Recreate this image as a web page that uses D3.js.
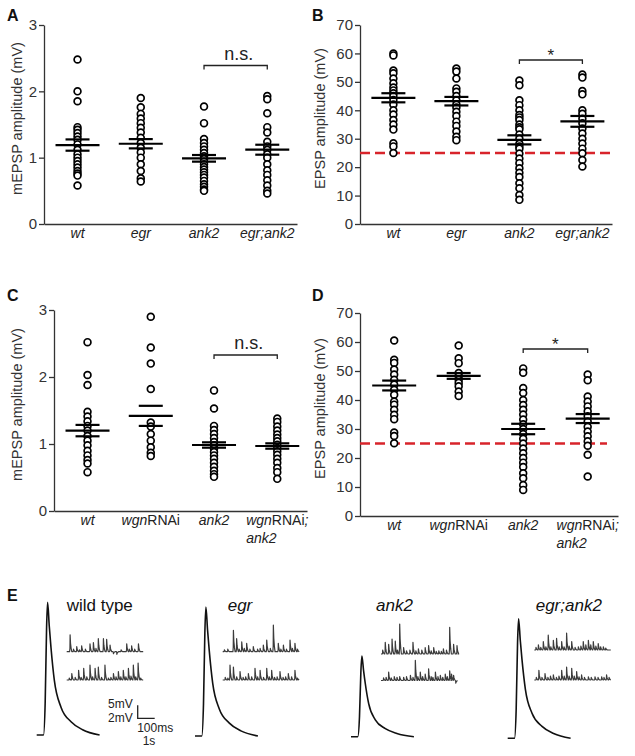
<!DOCTYPE html>
<html>
<head>
<meta charset="utf-8">
<script src="https://cdn.jsdelivr.net/npm/d3@7"></script>
<style>
    body { margin: 0; background: #fff; }
    svg { font-family: "Liberation Sans", Arial, Helvetica, sans-serif; display: block; }
</style>
</head>
<body>
<div id="fig"></div>
<script>
// ---- data ----
const catsAB = ['wt', 'egr', 'ank2', 'egr;ank2'];
const catsCD = ['wt', 'wgnRNAi', 'ank2', 'wgnRNAi;\nank2'];

// A: mEPSP amplitude (mV)
const mepspA = [
    [2.48, 2.0, 1.85, 1.46, 1.42, 1.37, 1.32, 1.27, 1.2, 1.12, 1.05, 1.0, 0.95, 0.9, 0.85, 0.8, 0.76, 0.73, 0.58],
    [1.9, 1.76, 1.66, 1.59, 1.52, 1.45, 1.38, 1.3, 1.22, 1.15, 1.08, 1.0, 0.9, 0.8, 0.69, 0.64],
    [1.77, 1.52, 1.28, 1.22, 1.17, 1.12, 1.07, 1.02, 0.98, 0.94, 0.9, 0.86, 0.82, 0.78, 0.74, 0.7, 0.65, 0.6, 0.56, 0.52, 0.5],
    [1.93, 1.88, 1.67, 1.46, 1.38, 1.24, 1.17, 1.12, 1.05, 1.0, 0.9, 0.81, 0.74, 0.66, 0.58, 0.5, 0.46]
];
const meanA = [1.19, 1.21, 0.99, 1.12];
const semA = [0.085, 0.07, 0.05, 0.075];

// B: EPSP amplitude (mV)
const epspB = [
    [60, 59.3, 54, 53, 51.2, 49.5, 48, 47, 46, 45, 43.6, 42, 40, 38.5, 36.6, 35, 33.2, 28.4, 27.3, 25],
    [54.7, 53.6, 51.2, 47.7, 46.5, 45, 43.5, 42, 41, 39.5, 38, 36, 34.5, 32.5, 30.7, 29.5],
    [50.5, 48.8, 43.5, 41.8, 40, 38.3, 37.5, 36.6, 35, 34, 33.3, 31.5, 30, 28.2, 27.3, 26.5, 24.8, 23, 21.4, 19.6, 18, 16.5, 14.3, 12.6, 10.2, 8.5],
    [52.6, 51.5, 46.8, 45.6, 40, 38.8, 37, 35.4, 33.6, 31.8, 30, 28.3, 26.5, 24.9, 22.5, 20.2]
];
const meanB = [44.4, 43.2, 29.6, 36.1];
const semB = [1.6, 1.5, 1.6, 1.9];

// C: mEPSP amplitude (mV)
const mepspC = [
    [2.52, 2.03, 1.88, 1.48, 1.41, 1.34, 1.27, 1.2, 1.12, 1.05, 0.98, 0.9, 0.83, 0.76, 0.71, 0.58],
    [2.9, 2.44, 2.2, 1.82, 1.32, 1.26, 1.15, 1.05, 0.95, 0.87, 0.82],
    [1.8, 1.53, 1.27, 1.21, 1.15, 1.09, 1.03, 0.98, 0.93, 0.88, 0.83, 0.78, 0.72, 0.66, 0.6, 0.55, 0.51],
    [1.38, 1.33, 1.26, 1.2, 1.14, 1.09, 1.04, 0.99, 0.94, 0.89, 0.84, 0.78, 0.72, 0.64, 0.58, 0.48]
];
const meanC = [1.2, 1.42, 0.985, 0.97];
const semC = [0.085, 0.15, 0.04, 0.04];

// D: EPSP amplitude (mV)
const epspD = [
    [60.5, 53.9, 52.8, 50.5, 48.8, 47, 45.3, 43.5, 41.8, 39.5, 38.4, 36.6, 34.9, 33.4, 28.8, 27.6, 25.1],
    [58.8, 54.4, 52.7, 49.3, 48.2, 47, 45.9, 44.7, 42.9, 41.4],
    [50.9, 49.4, 44.1, 42.4, 40, 38.3, 36.6, 35, 33.3, 31.6, 30, 28.3, 26.6, 25, 23.3, 21.6, 20, 18.4, 16.9, 14.7, 13, 10.7, 9],
    [48.8, 46.8, 41.2, 39.5, 37.8, 36.1, 34.4, 32.6, 30.8, 29.1, 27.5, 25.8, 24.2, 21.1, 13.6]
];
const meanD = [45, 48.3, 30, 33.6];
const semD = [1.7, 1.0, 1.8, 1.55];

const mepspTicks = [0, 1, 2, 3];
const epspTicks = [0, 10, 20, 30, 40, 50, 60, 70];
const epspThreshold = 25;

// E: representative traces
const genotypesE = ['wild type', 'egr', 'ank2', 'egr;ank2'];
const epspTime = [0, 40, 50, 58, 64, 74, 84, 104, 143, 202, 270, 370];          // ms
const epspShape = [0, 0, 0.25, 0.8, 1, 0.82, 0.66, 0.41, 0.21, 0.1, 0.04, 0.0];  // fraction of peak
const epspPeak = [51, 49.6, 31, 46];                                            // mV
const miniLength = 4.5;                                                         // s
// [time (s), amplitude (mV)] of each deflection, two sweeps per genotype
const minisTop = [
    [[0.2, 2.6], [0.4, 0.4], [0.59, 0.8], [0.75, 0.3], [0.88, 0.9], [1.1, 0.4], [1.37, 1.2], [1.57, 1.4], [1.72, 0.5], [1.86, 2.0], [2.16, 2.0], [2.35, 1.9], [2.55, 1.0], [2.75, -0.3], [2.95, -0.4], [3.2, 0.3], [3.53, 1.2], [3.68, 0.4], [3.82, 0.9], [4.0, 0.4], [4.22, 1.2]],
    [[0.1, 0.3], [0.3, 0.4], [0.63, 3.3], [0.82, 2.0], [0.97, 0.4], [1.12, 1.5], [1.27, 0.5], [1.41, 1.3], [1.6, 0.4], [1.8, 0.8], [2.05, 0.4], [2.2, 0.5], [2.39, 1.0], [2.59, 1.8], [2.8, 0.5], [2.98, 4.1], [3.27, 1.3], [3.42, 0.4], [3.57, 1.0], [3.75, 0.4], [3.96, 1.8], [4.1, 0.5], [4.25, 1.3], [4.4, 0.4]],
    [[0.1, 0.6], [0.25, 1.8], [0.45, 1.5], [0.65, 2.3], [0.84, 2.0], [0.97, 0.6], [1.1, 4.6], [1.33, 1.0], [1.5, 0.5], [1.7, 0.6], [1.88, 1.8], [2.05, 0.5], [2.2, 0.8], [2.4, 0.6], [2.6, 1.0], [2.8, 1.3], [2.95, 0.5], [3.1, 1.0], [3.25, 0.4], [3.4, 0.5], [3.55, 0.4], [3.67, 0.8], [3.85, 0.6], [4.04, 4.1], [4.27, 1.5], [4.47, 1.3]],
    [[0.1, 0.4], [0.24, 0.8], [0.38, 0.4], [0.53, 1.3], [0.68, 0.5], [0.82, 2.3], [0.97, 0.5], [1.12, 1.5], [1.31, 1.8], [1.46, 0.5], [1.61, 1.3], [1.75, 0.5], [1.9, 2.6], [2.05, 0.6], [2.2, 1.3], [2.4, 0.4], [2.59, 0.5], [2.74, 0.6], [2.88, 1.3], [3.03, 0.8], [3.18, 1.5], [3.32, 0.8], [3.47, 1.3], [3.62, 0.6], [3.76, 1.0], [3.9, 0.5], [4.06, 0.5], [4.2, 0.3]]
];
const minisBottom = [
    [[0.15, 0.3], [0.3, 1.0], [0.5, 0.4], [0.7, 1.5], [0.85, 0.4], [1.0, 1.8], [1.18, 0.5], [1.37, 2.3], [1.52, 0.5], [1.67, 1.8], [1.86, 2.0], [2.05, 0.4], [2.25, 2.3], [2.45, 0.3], [2.6, 0.4], [2.75, 1.0], [2.9, 0.5], [3.04, 1.3], [3.18, 0.5], [3.33, 1.5], [3.48, 0.5], [3.63, 1.8], [3.78, 0.6], [3.92, 2.3], [4.06, 0.5], [4.2, 2.6], [4.35, 0.3]],
    [[0.15, 0.4], [0.3, 0.3], [0.43, 2.3], [0.63, 2.0], [0.82, 0.5], [1.02, 1.3], [1.2, 0.4], [1.35, 0.5], [1.51, 1.0], [1.7, 0.5], [1.9, 1.8], [2.05, 0.5], [2.2, 1.5], [2.4, 0.4], [2.59, 1.8], [2.74, 0.5], [2.88, 1.5], [3.05, 0.4], [3.2, 0.5], [3.37, 1.3], [3.55, 0.4], [3.7, 0.5], [3.86, 1.0], [4.05, 0.5], [4.25, 1.5], [4.4, 0.3]],
    [[0.15, 0.4], [0.3, 0.5], [0.45, 1.3], [0.6, 0.4], [0.78, 0.6], [0.94, 0.5], [1.1, 0.6], [1.33, 0.5], [1.5, 0.6], [1.73, 0.8], [1.88, 0.5], [2.02, 3.1], [2.17, 0.6], [2.31, 1.3], [2.45, 0.6], [2.6, 1.0], [2.8, 1.8], [2.95, 0.6], [3.05, 0.5], [3.2, 1.3], [3.35, 0.6], [3.49, 0.8], [3.63, 0.5], [3.78, 1.0], [3.9, 0.6], [4.04, 1.5], [4.15, 1.0], [4.27, 0.8], [4.4, -0.4]],
    [[0.12, 0.4], [0.27, 1.5], [0.45, 0.4], [0.63, 1.0], [0.8, 0.4], [0.95, 0.6], [1.12, 0.8], [1.3, 0.4], [1.45, 0.6], [1.61, 1.5], [1.76, 0.6], [1.9, 2.0], [2.05, 0.6], [2.2, 1.8], [2.35, 0.6], [2.49, 1.3], [2.63, 0.5], [2.78, 0.8], [2.95, 0.4], [3.18, 0.5], [3.35, 0.4], [3.57, 0.5], [3.75, 0.4], [3.96, 0.5], [4.1, 0.4], [4.25, 0.8], [4.4, 0.4]]
];

// ---- drawing ----
const W = 635, H = 756;
const svg = d3.select('#fig').append('svg')
    .attr('width', W)
    .attr('height', H);

function panelLetter(txt, x, y) {
    svg.append('text')
        .attr('x', x).attr('y', y)
        .attr('font-size', 16).attr('font-weight', 'bold')
        .attr('fill', '#111')
        .text(txt);
}

// gene names italic, "RNAi" upright
function addLabelParts(textSel, s) {
    s.split(/(RNAi)/).filter((p) => p.length).forEach((p) => {
        textSel.append('tspan')
            .attr('font-style', p === 'RNAi' ? 'normal' : 'italic')
            .text(p);
    });
}

function drawScatter(opt) {
    const g = svg.append('g').attr('class', 'panel');
    const x = d3.scalePoint().domain(opt.cats).range(opt.xr).padding(0.5).align(0.53);
    const y = d3.scaleLinear().domain(opt.yd).range(opt.yr);

    const yAxis = g.append('g')
        .attr('transform', `translate(${opt.xr[0]},0)`)
        .call(d3.axisLeft(y).tickValues(opt.ticks).tickFormat(d3.format('d'))
            .tickSize(5).tickPadding(2).tickSizeOuter(0));
    const xAxis = g.append('g')
        .attr('transform', `translate(0,${opt.yr[0]})`)
        .call(d3.axisBottom(x).tickValues([]).tickSizeOuter(0));
    [yAxis, xAxis].forEach((a) => {
        a.attr('font-size', 15).attr('font-family', null);
        a.selectAll('.domain, .tick line').attr('stroke', '#333').attr('stroke-width', 1.3);
        a.selectAll('text').attr('fill', '#333');
    });

    // y title
    const midY = (opt.yr[0] + opt.yr[1]) / 2 - 6;
    g.append('text')
        .attr('transform', `translate(${opt.titleX},${midY}) rotate(-90)`)
        .attr('text-anchor', 'middle')
        .attr('font-size', 14.5).attr('fill', '#333')
        .text(opt.title);

    // category labels
    opt.cats.forEach((c) => {
        const lines = c.split('\n');
        const first = g.append('text')
            .attr('x', x(c)).attr('y', opt.yr[0] + 14)
            .attr('text-anchor', 'middle')
            .attr('font-size', 14).attr('fill', '#222');
        addLabelParts(first, lines[0]);
        if (lines.length > 1) {
            const w = first.node().getComputedTextLength();
            const second = g.append('text')
                .attr('x', x(c) - w / 2).attr('y', opt.yr[0] + 32)
                .attr('font-size', 14).attr('fill', '#222');
            addLabelParts(second, lines[1]);
        }
    });

    // threshold line
    if (opt.threshold != null) {
        g.append('line')
            .attr('x1', opt.xr[0]).attr('x2', opt.dashEnd)
            .attr('y1', y(opt.threshold)).attr('y2', y(opt.threshold))
            .attr('stroke', '#d8242b').attr('stroke-width', 2.6)
            .attr('stroke-dasharray', '10,5');
    }

    // points
    opt.cats.forEach((c, i) => {
        g.append('g').selectAll('circle')
            .data(opt.values[i])
            .enter().append('circle')
            .attr('cx', x(c))
            .attr('cy', (d) => y(d))
            .attr('r', 3.4)
            .attr('fill', '#fff')
            .attr('stroke', '#000')
            .attr('stroke-width', 1.7);
    });

    // mean +/- SEM
    opt.cats.forEach((c, i) => {
        const m = opt.mean[i], s = opt.sem[i];
        const bars = [[m, 22], [m + s, 12], [m - s, 12]];
        g.append('g').selectAll('line')
            .data(bars)
            .enter().append('line')
            .attr('x1', (d) => x(c) - d[1]).attr('x2', (d) => x(c) + d[1])
            .attr('y1', (d) => y(d[0])).attr('y2', (d) => y(d[0]))
            .attr('stroke', '#000').attr('stroke-width', 2.2);
    });

    // significance bracket between ank2 and double mutant
    const bx1 = x(opt.cats[2]), bx2 = x(opt.cats[3]), by = opt.bracketY;
    g.append('path')
        .attr('d', `M${bx1},${by + 4}V${by}H${bx2}V${by + 4}`)
        .attr('fill', 'none').attr('stroke', '#222').attr('stroke-width', 1.3);
    if (opt.sig === '*') {
        g.append('text')
            .attr('x', (bx1 + bx2) / 2).attr('y', by + 1)
            .attr('text-anchor', 'middle')
            .attr('font-size', 17).attr('fill', '#222')
            .text('*');
    } else {
        g.append('text')
            .attr('x', (bx1 + bx2) / 2 + 3).attr('y', by - 6)
            .attr('text-anchor', 'middle')
            .attr('font-size', 18).attr('fill', '#222')
            .text(opt.sig);
    }
}

drawScatter({
    cats: catsAB, values: mepspA, mean: meanA, sem: semA,
    xr: [44, 297], yd: [0, 3], yr: [224, 25], ticks: mepspTicks,
    title: 'mEPSP amplitude (mV)', titleX: 22, bracketY: 65.5, sig: 'n.s.'
});
drawScatter({
    cats: catsAB, values: epspB, mean: meanB, sem: semB,
    xr: [360, 612], yd: [0, 70], yr: [224, 25], ticks: epspTicks,
    title: 'EPSP amplitude (mV)', titleX: 325, bracketY: 60, sig: '*',
    threshold: epspThreshold, dashEnd: 612
});
drawScatter({
    cats: catsCD, values: mepspC, mean: meanC, sem: semC,
    xr: [54, 307], yd: [0, 3], yr: [511, 310], ticks: mepspTicks,
    title: 'mEPSP amplitude (mV)', titleX: 22, bracketY: 355, sig: 'n.s.'
});
drawScatter({
    cats: catsCD, values: epspD, mean: meanD, sem: semD,
    xr: [360, 618], yd: [0, 70], yr: [516, 313], ticks: epspTicks,
    title: 'EPSP amplitude (mV)', titleX: 325, bracketY: 349, sig: '*',
    threshold: epspThreshold, dashEnd: 607
});

panelLetter('A', 7, 21);
panelLetter('B', 312, 21);
panelLetter('C', 7, 301);
panelLetter('D', 312, 301);
panelLetter('E', 7, 601);

// ---- panel E: traces ----
const xE = d3.scaleLinear().domain([0, 100]).range([0, 17]);   // ms -> px
const yE = d3.scaleLinear().domain([0, 5]).range([0, -13]);    // mV -> px
const xM = d3.scaleLinear().domain([0, 1]).range([0, 17]);     // s -> px
const yM = d3.scaleLinear().domain([0, 2]).range([0, -13]);    // mV -> px

const colLayout = [
    { epspX: 36.7, base: 735, miniX: 66.7, top: 651.7, bottom: 680, titleX: 66.7 },
    { epspX: 195, base: 736, miniX: 222.7, top: 651.7, bottom: 680, titleX: 227.7 },
    { epspX: 351, base: 736.7, miniX: 381, top: 654, bottom: 680.5, titleX: 376 },
    { epspX: 507.7, base: 738.3, miniX: 534.3, top: 650, bottom: 680, titleX: 535.7 }
];

const epspLine = d3.line()
    .x((d) => xE(d[0]))
    .y((d) => yE(d[1]))
    .curve(d3.curveMonotoneX);

const miniLine = d3.line()
    .x((d) => xM(d[0]))
    .y((d) => yM(d[1]));

function miniPoints(events) {
    const pts = [[0, 0]];
    events.forEach(([t, a]) => {
        pts.push([t - 0.03, 0], [t - 0.01, a * 0.2], [t, a], [t + 0.025, a * 0.5], [t + 0.06, a * 0.2], [t + 0.1, 0]);
    });
    pts.push([miniLength, 0]);
    return pts;
}

genotypesE.forEach((gName, i) => {
    const L = colLayout[i];
    const g = svg.append('g').attr('class', 'traces');

    g.append('text')
        .attr('x', L.titleX).attr('y', 611)
        .attr('font-size', 17).attr('fill', '#111')
        .attr('font-style', i === 0 ? 'normal' : 'italic')
        .text(gName);

    g.append('path')
        .attr('transform', `translate(${L.epspX},${L.base})`)
        .attr('d', epspLine(epspTime.map((t, k) => [t, epspShape[k] * epspPeak[i]])))
        .attr('fill', 'none').attr('stroke', '#111').attr('stroke-width', 1.6);

    [[minisTop[i], L.top], [minisBottom[i], L.bottom]].forEach(([ev, by]) => {
        g.append('path')
            .attr('transform', `translate(${L.miniX},${by})`)
            .attr('d', miniLine(miniPoints(ev)))
            .attr('fill', 'none').attr('stroke', '#3c3c3c').attr('stroke-width', 1.2)
            .attr('stroke-linejoin', 'round');
    });
});

// scale bar
const sb = svg.append('g').attr('transform', 'translate(137.7,718.3)');
sb.append('path')
    .attr('d', `M0,${yE(5)}V0H${xE(100)}`)
    .attr('fill', 'none').attr('stroke', '#222').attr('stroke-width', 1.3);
sb.append('text').attr('x', -5).attr('y', -10).attr('text-anchor', 'end')
    .attr('font-size', 12).attr('fill', '#222').text('5mV');
sb.append('text').attr('x', -5).attr('y', 3.5).attr('text-anchor', 'end')
    .attr('font-size', 12).attr('fill', '#222').text('2mV');
sb.append('text').attr('x', -0.5).attr('y', 13.5)
    .attr('font-size', 12).attr('fill', '#222').text('100ms');
sb.append('text').attr('x', 5).attr('y', 27)
    .attr('font-size', 12).attr('fill', '#222').text('1s');
</script>
</body>
</html>
